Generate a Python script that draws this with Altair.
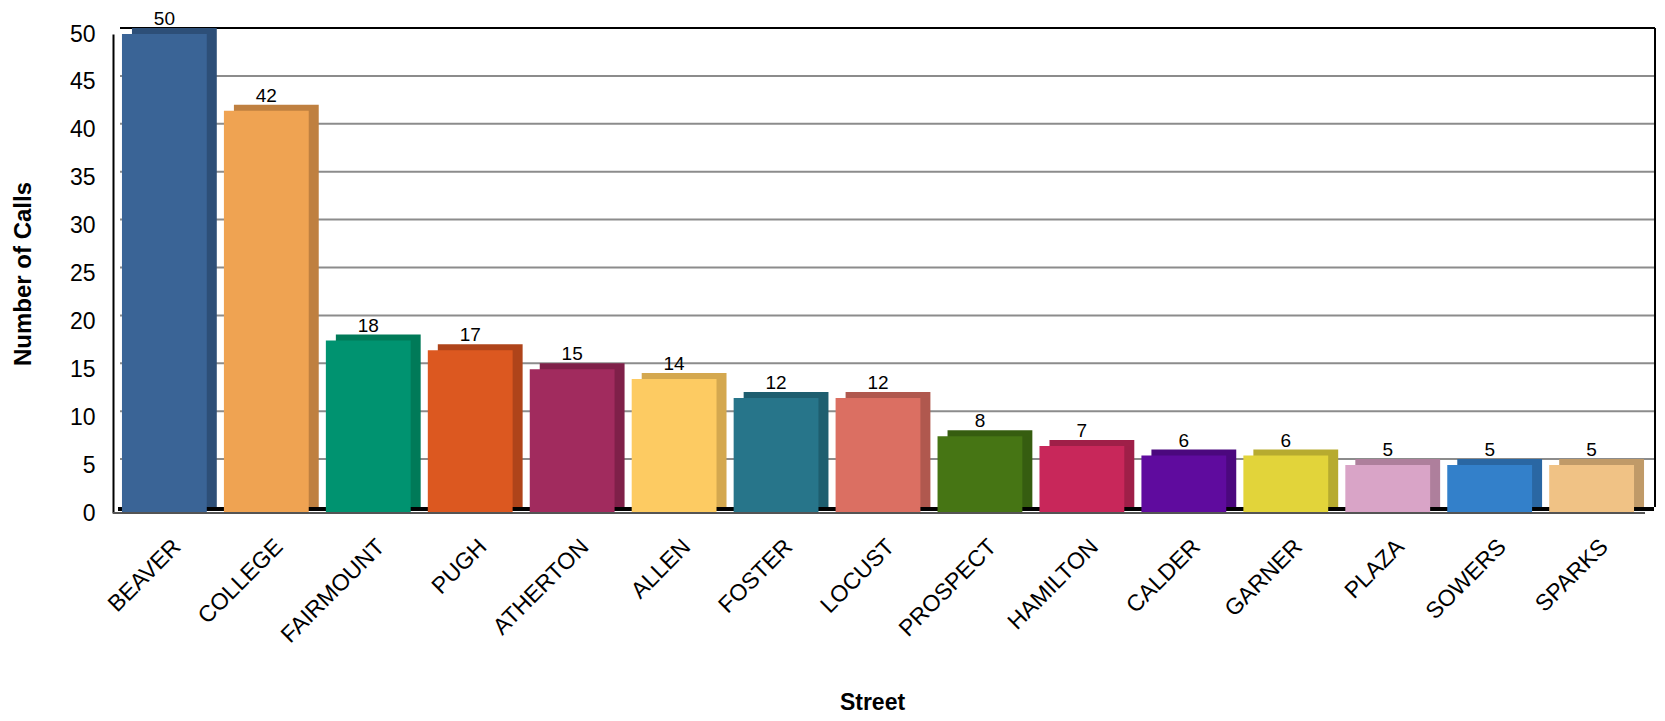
import altair as alt
import pandas as pd

streets = ["BEAVER", "COLLEGE", "FAIRMOUNT", "PUGH", "ATHERTON", "ALLEN", "FOSTER",
           "LOCUST", "PROSPECT", "HAMILTON", "CALDER", "GARNER", "PLAZA", "SOWERS", "SPARKS"]
calls = [50, 42, 18, 17, 15, 14, 12, 12, 8, 7, 6, 6, 5, 5, 5]
front_colors = ["#3A6496", "#EFA352", "#009370", "#DC5820", "#A12B5E", "#FDCB62", "#27758A",
                "#DB6F62", "#467514", "#C8275A", "#5F0B9E", "#E2D43A", "#D9A4C7", "#3380CA", "#F0C285"]
side_colors = ["#2D4F78", "#BF8040", "#007A58", "#AF441A", "#7F2049", "#D4A84F", "#1E5E6F",
               "#B0584E", "#365D10", "#9F1F48", "#4B087E", "#B7AB2F", "#AE7F9C", "#2A67A3", "#C09A68"]
grid_values = [5, 10, 15, 20, 25, 30, 35, 40, 45]
y_ticks = [0, 5, 10, 15, 20, 25, 30, 35, 40, 45, 50]

W = 1530
H = 479
DX = 10
DY = -6
FONT = "Liberation Sans"

df = pd.DataFrame({"street": streets, "calls": calls,
                   "front": front_colors, "side": side_colors})
grid_df = pd.DataFrame({"g": grid_values})

x_enc = alt.X("street:N", sort=streets,
              scale=alt.Scale(paddingInner=0.168, paddingOuter=0.088),
              axis=alt.Axis(title="Street", labelAngle=-45, labelFontSize=23,
                            labelFont=FONT, labelColor="#000", labelPadding=22,
                            labelOffset=5, ticks=False, domain=False,
                            titleFont=FONT, titleFontSize=23, titleFontWeight="bold",
                            titleColor="#000", titleX=759, titleY=189,
                            titleBaseline="middle", titleAlign="center"))
y_scale = alt.Scale(domain=[0, 50], nice=False)
y_enc = alt.Y("calls:Q", scale=y_scale,
              axis=alt.Axis(title="Number of Calls", values=y_ticks, labelFontSize=23,
                            labelFont=FONT, labelColor="#000", labelPadding=18,
                            ticks=False, grid=False, domainColor="#000", domainWidth=2,
                            titleFont=FONT, titleFontSize=24, titleFontWeight="bold",
                            titleColor="#000", titleX=-90, titleY=H / 2,
                            titleAngle=-90, titleBaseline="middle", titleAlign="center"))

base = alt.Chart(df)

grid = alt.Chart(grid_df).mark_rule(color="#8C8C8C", strokeWidth=2, yOffset=DY).encode(
    y=alt.Y("g:Q", scale=y_scale),
    x=alt.value(7), x2=alt.value(W + 12))

top_frame = alt.Chart(df).mark_rule(color="#000", strokeWidth=2, yOffset=DY).encode(
    y=alt.datum(50), x=alt.value(7), x2=alt.value(W + 12))
right_frame = alt.Chart(df).mark_rule(color="#000", strokeWidth=2, yOffset=DY, y2Offset=DY).encode(
    y=alt.datum(50), y2=alt.datum(0), x=alt.value(W + 12))
floor_back = alt.Chart(df).mark_rule(color="#000", strokeWidth=3, yOffset=-4).encode(
    y=alt.datum(0), x=alt.value(5), x2=alt.value(W + 11))
floor_front = alt.Chart(df).mark_rule(color="#555", strokeWidth=1.5).encode(
    y=alt.datum(0), x=alt.value(0), x2=alt.value(W + 2))

side = base.mark_bar(xOffset=DX, x2Offset=DX, yOffset=DY, y2Offset=DY).encode(
    x=x_enc, y=y_enc,
    color=alt.Color("side:N", scale=None, legend=None))
front = base.mark_bar().encode(
    x=x_enc, y=y_enc,
    color=alt.Color("front:N", scale=None, legend=None))
labels = base.mark_text(font=FONT, fontSize=19, color="#000", baseline="alphabetic", dy=-9).encode(
    x=alt.X("street:N", sort=streets), y=alt.Y("calls:Q"), text=alt.Text("calls:Q"))

chart = alt.layer(grid, top_frame, right_frame, floor_back, side, front, floor_front, labels).properties(
    width=W, height=H,
    padding={"left": 105, "top": 26, "right": 14, "bottom": 200},
    autosize=alt.AutoSizeParams(type="none"),
    background="white",
).configure_view(stroke=None)

chart.save("out.html", embed_options={"renderer": "svg", "actions": False})
